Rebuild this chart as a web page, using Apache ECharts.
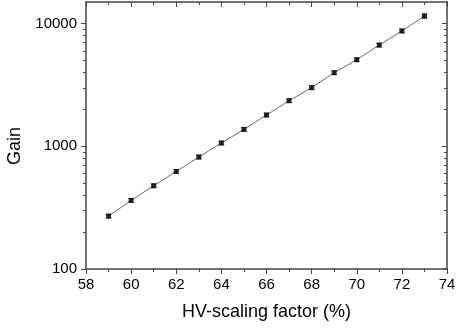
<!DOCTYPE html>
<html>
<head>
<meta charset="utf-8">
<script src="https://cdn.jsdelivr.net/npm/echarts@6/dist/echarts.min.js"></script>
<style>
  html, body { margin: 0; padding: 0; background: #fff; }
  #chart { width: 457px; height: 329px; }
</style>
</head>
<body>
<div id="chart"></div>
<script>
const hvFactor = [59, 60, 61, 62, 63, 64, 65, 66, 67, 68, 69, 70, 71, 72, 73];
const gain = [270, 362, 477, 624, 818, 1064, 1373, 1799, 2353, 3004, 3980, 5080, 6690, 8710, 11530];
// relative error used for the bars
const gainErr = [0.035, 0.035, 0.035, 0.035, 0.035, 0.035, 0.035, 0.035, 0.035, 0.035, 0.035, 0.035, 0.035, 0.035, 0.04];
const yMajorTicks = [100, 1000, 10000];
const yMinorTicks = [200, 300, 400, 500, 600, 700, 800, 900,
  2000, 3000, 4000, 5000, 6000, 7000, 8000, 9000];

const font = "'Liberation Sans', Arial, sans-serif";
const axisColor = "#444";

const chart = echarts.init(document.getElementById("chart"));

const points = hvFactor.map((x, i) => [x, gain[i]]);
const errData = hvFactor.map((x, i) => [x, gain[i] * (1 - gainErr[i]), gain[i] * (1 + gainErr[i])]);

const logAxisBase = {
  type: "log",
  logBase: 10,
  min: 100,
  max: 15000,
  splitLine: { show: false },
  minorTick: { show: false },
};

const option = {
  animation: false,
  grid: { left: 86, right: 10, top: 2, bottom: 60, outerBoundsMode: "none", containLabel: false },
  xAxis: [
    {
      type: "value",
      min: 58,
      max: 74,
      interval: 2,
      position: "bottom",
      name: "HV-scaling factor (%)",
      nameLocation: "middle",
      nameGap: 34,
      nameTextStyle: { fontFamily: font, fontSize: 18, color: "#000" },
      axisLine: { show: true, lineStyle: { color: axisColor, width: 1.5 } },
      axisTick: { show: true, inside: false, length: 5, lineStyle: { color: axisColor } },
      minorTick: { show: true, splitNumber: 2, length: 3, lineStyle: { color: axisColor } },
      axisLabel: { fontFamily: font, fontSize: 15, color: "#000", margin: 8 },
      splitLine: { show: false },
    },
    {
      type: "value",
      min: 58,
      max: 74,
      interval: 2,
      position: "top",
      axisLine: { show: true, lineStyle: { color: axisColor, width: 1.5 } },
      axisTick: { show: true, inside: true, length: 5, lineStyle: { color: axisColor } },
      minorTick: { show: true, splitNumber: 2, length: 3, lineStyle: { color: axisColor } },
      axisLabel: { show: false },
      splitLine: { show: false },
    },
  ],
  yAxis: [
    Object.assign({}, logAxisBase, {
      position: "left",
      name: "Gain",
      nameLocation: "middle",
      nameGap: 62,
      nameTextStyle: { fontFamily: font, fontSize: 18, color: "#000", padding: [0, 21, 0, 0] },
      axisLine: { show: true, lineStyle: { color: axisColor, width: 1.5 } },
      axisTick: { show: true, inside: false, length: 5, customValues: yMajorTicks, lineStyle: { color: axisColor } },
      axisLabel: {
        fontFamily: font, fontSize: 15, color: "#000", margin: 9,
        customValues: yMajorTicks,
        formatter: (v) => String(v),
      },
    }),
    Object.assign({}, logAxisBase, {
      position: "left",
      axisLine: { show: false },
      axisTick: { show: true, inside: false, length: 3, customValues: yMinorTicks, lineStyle: { color: axisColor } },
      axisLabel: { show: false },
    }),
    Object.assign({}, logAxisBase, {
      position: "right",
      axisLine: { show: true, lineStyle: { color: axisColor, width: 1.5 } },
      axisTick: { show: true, inside: true, length: 5, customValues: yMajorTicks, lineStyle: { color: axisColor } },
      axisLabel: { show: false },
    }),
    Object.assign({}, logAxisBase, {
      position: "right",
      axisLine: { show: false },
      axisTick: { show: true, inside: true, length: 3, customValues: yMinorTicks, lineStyle: { color: axisColor } },
      axisLabel: { show: false },
    }),
  ],
  series: [
    {
      type: "line",
      data: points,
      xAxisIndex: 0,
      yAxisIndex: 0,
      symbol: "none",
      lineStyle: { color: "#666", width: 1 },
      z: 2,
    },
    {
      type: "custom",
      xAxisIndex: 0,
      yAxisIndex: 0,
      data: errData,
      z: 3,
      renderItem: function (params, api) {
        const x = api.value(0);
        const lo = api.coord([x, api.value(1)]);
        const hi = api.coord([x, api.value(2)]);
        const w = 3;
        const style = { stroke: "#666", lineWidth: 1 };
        return {
          type: "group",
          children: [
            { type: "line", shape: { x1: lo[0], y1: lo[1], x2: hi[0], y2: hi[1] }, style: style },
            { type: "line", shape: { x1: lo[0] - w, y1: lo[1], x2: lo[0] + w, y2: lo[1] }, style: style },
            { type: "line", shape: { x1: hi[0] - w, y1: hi[1], x2: hi[0] + w, y2: hi[1] }, style: style },
          ],
        };
      },
    },
    {
      type: "scatter",
      data: points,
      xAxisIndex: 0,
      yAxisIndex: 0,
      symbol: "rect",
      symbolSize: 5,
      itemStyle: { color: "#000" },
      z: 4,
    },
  ],
};

chart.setOption(option);
</script>
</body>
</html>
